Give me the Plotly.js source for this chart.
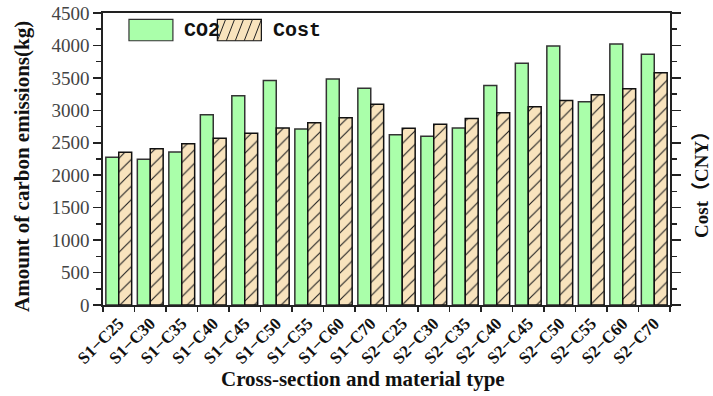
<!DOCTYPE html>
<html>
<head>
<meta charset="utf-8">
<script src="https://cdn.plot.ly/plotly-3.0.1.min.js"></script>
<style>
  html, body { margin: 0; padding: 0; background: #fff; }
  #chart { width: 713px; height: 396px; }
</style>
</head>
<body>
<div id="chart"></div>
<script>
// Cross-section / concrete grade combinations
const categories = [
  "S1−C25", "S1−C30", "S1−C35", "S1−C40", "S1−C45", "S1−C50", "S1−C55", "S1−C60", "S1−C70",
  "S2−C25", "S2−C30", "S2−C35", "S2−C40", "S2−C45", "S2−C50", "S2−C55", "S2−C60", "S2−C70"
];

// Carbon emissions (kg)
const co2Values = [
  2276, 2245, 2358, 2932, 3224, 3461, 2712, 3481, 3342,
  2624, 2599, 2727, 3384, 3727, 3993, 3132, 4024, 3866
];

// Cost (CNY)
const costValues = [
  2353, 2409, 2486, 2568, 2645, 2727, 2809, 2886, 3092,
  2722, 2784, 2876, 2963, 3055, 3153, 3240, 3332, 3578
];

const yTickValues = [0, 500, 1000, 1500, 2000, 2500, 3000, 3500, 4000, 4500];
const legendLabels = ["CO2", "Cost"];
const xTitle = "Cross-section and material type";
const yTitle = "Amount of carbon emissions(kg)";
const y2Title = "Cost（CNY）";

const GREEN = "#aaffaa";
const BEIGE = "#f8e3bd";
const TITLE_FONT = { family: "Liberation Serif, Noto Sans CJK SC, serif", size: 21, color: "#111" };

const co2Trace = {
  type: "bar",
  name: legendLabels[0],
  x: categories,
  y: co2Values,
  marker: { color: GREEN, line: { color: "#333333", width: 1.5 } },
  offsetgroup: "a",
  showlegend: false
};

const costTrace = {
  type: "bar",
  name: legendLabels[1],
  x: categories,
  y: costValues,
  yaxis: "y2",
  marker: {
    color: BEIGE,
    line: { color: "#111111", width: 1.5 },
    pattern: { shape: "/", fillmode: "replace", bgcolor: BEIGE, fgcolor: "#222222", size: 9.5, solidity: 0.12 }
  },
  offsetgroup: "b",
  showlegend: false
};

// Hand-built legend box (wide swatches with labels)
const sw = { y0: 0.905, y1: 0.978 };
const legendShapes = [
  { type: "rect", xref: "paper", yref: "paper", x0: 0.0458, x1: 0.1233, y0: sw.y0, y1: sw.y1,
    fillcolor: GREEN, line: { color: "#333", width: 1.2 } },
  { type: "rect", xref: "paper", yref: "paper", x0: 0.2017, x1: 0.2793, y0: sw.y0, y1: sw.y1,
    fillcolor: BEIGE, line: { color: "#111", width: 1.2 } }
];
// diagonal hatch strokes for the Cost swatch
[0.2017, 0.2175, 0.2333, 0.2491, 0.2649].forEach(function (x0) {
  legendShapes.push({ type: "line", xref: "paper", yref: "paper",
    x0: x0, y0: sw.y0, x1: x0 + 0.0145, y1: sw.y1, line: { color: "#222", width: 1 } });
});

const layout = {
  width: 713,
  height: 396,
  margin: { l: 103, r: 43, t: 13, b: 91 },
  paper_bgcolor: "#ffffff",
  plot_bgcolor: "#ffffff",
  barmode: "group",
  bargap: 0.18,
  bargroupgap: 0,
  showlegend: false,
  font: { family: "Liberation Serif, serif", color: "#000" },
  xaxis: {
    type: "category",
    tickson: "boundaries",
    ticks: "outside",
    ticklen: 5,
    tickwidth: 1.5,
    tickcolor: "#222",
    tickangle: -45,
    tickfont: { family: "Liberation Serif, serif", size: 17, color: "#111", weight: "bold" },
    showline: true,
    linecolor: "#222",
    linewidth: 1.8,
    mirror: true,
    showgrid: false,
    zeroline: false
  },
  yaxis: {
    range: [0, 4500],
    tickvals: yTickValues,
    ticks: "outside",
    ticklen: 8,
    tickwidth: 1.5,
    tickcolor: "#222",
    minor: { ticks: "outside", ticklen: 5, tickwidth: 1.5, tickcolor: "#222", dtick: 250 },
    tickfont: { family: "Liberation Serif, serif", size: 19, color: "#444" },
    showline: true,
    linecolor: "#222",
    linewidth: 1.8,
    showgrid: false,
    zeroline: false
  },
  yaxis2: {
    overlaying: "y",
    side: "right",
    range: [0, 4500],
    tickvals: yTickValues,
    showticklabels: false,
    ticks: "outside",
    ticklen: 9,
    tickwidth: 1.5,
    tickcolor: "#222",
    minor: { ticks: "outside", ticklen: 5, tickwidth: 1.5, tickcolor: "#222", dtick: 250 },
    showline: true,
    linecolor: "#222",
    linewidth: 1.8,
    showgrid: false,
    zeroline: false
  },
  shapes: legendShapes,
  annotations: [
    { xref: "paper", yref: "paper", x: 0.1400, y: 0.941, xanchor: "left", yanchor: "middle", showarrow: false,
      text: legendLabels[0], font: { family: "Liberation Mono, monospace", size: 20, color: "#111", weight: "bold" } },
    { xref: "paper", yref: "paper", x: 0.2970, y: 0.941, xanchor: "left", yanchor: "middle", showarrow: false,
      text: legendLabels[1], font: { family: "Liberation Mono, monospace", size: 20, color: "#111", weight: "bold" } },
    // axis titles
    { xref: "paper", yref: "paper", x: 0.459, y: -0.255, xanchor: "center", yanchor: "middle", showarrow: false,
      text: "<b>" + xTitle + "</b>", font: TITLE_FONT },
    { xref: "paper", yref: "paper", x: -0.143, y: 0.476, xanchor: "center", yanchor: "middle", showarrow: false,
      textangle: -90, text: "<b>" + yTitle + "</b>", font: TITLE_FONT },
    { xref: "paper", yref: "paper", x: 1.0545, y: 0.428, xanchor: "center", yanchor: "middle", showarrow: false,
      textangle: -90, text: "<b>" + y2Title + "</b>",
      font: { family: TITLE_FONT.family, size: 19, color: TITLE_FONT.color } }
  ]
};

Plotly.newPlot("chart", [co2Trace, costTrace], layout, { displayModeBar: false, staticPlot: true });
</script>
</body>
</html>
